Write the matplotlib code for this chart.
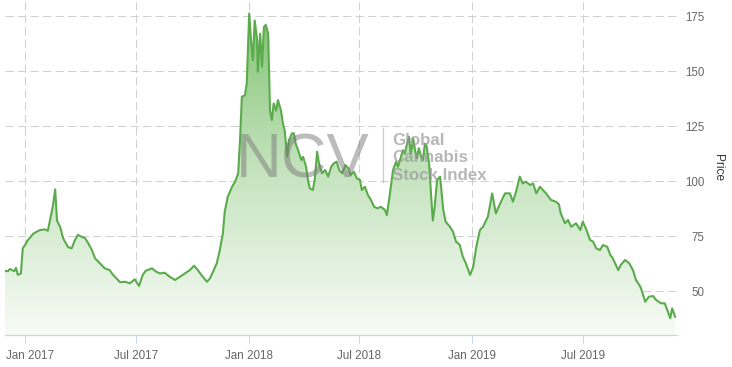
import matplotlib
matplotlib.use("Agg")
import matplotlib.pyplot as plt
import matplotlib.dates as mdates
import numpy as np
from matplotlib.colors import LinearSegmentedColormap
from matplotlib.lines import Line2D
from matplotlib.transforms import ScaledTranslation

# ---------------- data ----------------
dates = [
    "2016-11-29", "2016-12-04", "2016-12-07", "2016-12-14", "2016-12-17", "2016-12-20", "2016-12-25", "2016-12-28",
    "2017-01-01", "2017-01-05", "2017-01-14", "2017-01-20", "2017-01-25", "2017-02-02", "2017-02-07", "2017-02-10",
    "2017-02-15", "2017-02-19", "2017-02-22", "2017-02-27",
    "2017-03-04", "2017-03-07", "2017-03-12", "2017-03-18", "2017-03-23", "2017-03-28", "2017-04-03", "2017-04-09",
    "2017-04-14", "2017-04-20", "2017-04-25",
    "2017-05-03", "2017-05-11", "2017-05-19", "2017-05-24", "2017-05-31", "2017-06-05", "2017-06-13", "2017-06-21",
    "2017-06-29",
    "2017-07-06", "2017-07-12", "2017-07-17", "2017-07-27", "2017-08-03", "2017-08-09", "2017-08-17", "2017-08-25",
    "2017-09-03", "2017-09-11", "2017-09-19", "2017-09-27",
    "2017-10-04", "2017-10-10", "2017-10-18", "2017-10-25", "2017-10-30", "2017-11-04", "2017-11-10", "2017-11-15",
    "2017-11-20", "2017-11-23", "2017-11-28",
    "2017-12-05", "2017-12-10", "2017-12-15", "2017-12-18", "2017-12-21", "2017-12-26", "2017-12-29",
    "2018-01-02", "2018-01-05", "2018-01-08", "2018-01-11", "2018-01-15", "2018-01-16", "2018-01-20", "2018-01-23",
    "2018-01-26", "2018-01-29",
    "2018-02-02", "2018-02-05", "2018-02-08", "2018-02-11", "2018-02-15", "2018-02-18", "2018-02-23", "2018-02-26",
    "2018-03-01", "2018-03-05", "2018-03-08", "2018-03-13", "2018-03-16", "2018-03-19", "2018-03-23", "2018-03-28",
    "2018-03-31",
    "2018-04-05", "2018-04-08", "2018-04-11", "2018-04-16", "2018-04-19", "2018-04-23", "2018-04-26",
    "2018-05-01", "2018-05-06", "2018-05-11", "2018-05-16", "2018-05-20", "2018-05-25", "2018-05-29",
    "2018-06-03", "2018-06-08", "2018-06-13", "2018-06-17", "2018-06-22", "2018-06-27",
    "2018-07-02", "2018-07-05", "2018-07-10", "2018-07-15", "2018-07-20", "2018-07-25", "2018-07-31",
    "2018-08-05", "2018-08-12", "2018-08-15", "2018-08-20", "2018-08-25", "2018-08-30",
    "2018-09-02", "2018-09-07", "2018-09-10", "2018-09-13", "2018-09-17", "2018-09-20", "2018-09-23", "2018-09-27",
    "2018-09-30",
    "2018-10-03", "2018-10-06", "2018-10-10", "2018-10-13", "2018-10-16", "2018-10-19", "2018-10-23", "2018-10-26",
    "2018-10-29",
    "2018-11-01", "2018-11-05", "2018-11-10", "2018-11-15", "2018-11-19", "2018-11-26",
    "2018-12-01", "2018-12-06", "2018-12-12", "2018-12-17", "2018-12-22", "2018-12-29",
    "2019-01-03", "2019-01-08", "2019-01-14", "2019-01-19", "2019-01-27",
    "2019-02-03", "2019-02-09", "2019-02-16", "2019-02-24",
    "2019-03-04", "2019-03-09", "2019-03-14", "2019-03-20", "2019-03-25", "2019-03-30",
    "2019-04-06", "2019-04-11", "2019-04-16", "2019-04-22", "2019-04-27",
    "2019-05-02", "2019-05-10", "2019-05-18", "2019-05-23", "2019-05-26",
    "2019-06-02", "2019-06-07", "2019-06-12", "2019-06-20", "2019-06-27",
    "2019-07-01", "2019-07-06", "2019-07-13", "2019-07-18", "2019-07-23", "2019-07-29",
    "2019-08-03", "2019-08-10", "2019-08-15", "2019-08-19", "2019-08-28",
    "2019-09-01", "2019-09-08", "2019-09-15", "2019-09-21", "2019-09-26",
    "2019-10-03", "2019-10-06", "2019-10-11", "2019-10-17", "2019-10-24", "2019-10-29",
    "2019-11-06", "2019-11-12", "2019-11-17", "2019-11-21", "2019-11-24", "2019-11-29",
]

prices = [
    59.2, 59, 60, 59, 60.5, 57.3, 58, 69.4,
    71, 73, 76, 77, 77.7, 78, 77.4, 81.5, 88.3, 96.2, 82, 79.2,
    74, 72.4, 70, 69.4, 73, 75.5, 74.7, 74, 71.7, 68.6, 64.9,
    62.6, 60.3, 59.5, 57.5, 55.5, 54, 54.2, 53.5, 55.3,
    52.3, 57.3, 59.2, 60.3, 58.8, 58, 58.3, 56.5, 55, 56.5, 58, 59.5,
    61.5, 59.5, 56.5, 54.2, 55.8, 58.8, 62.6, 68.6, 76.2, 86, 92.9,
    97.4, 99.7, 103.5, 118.6, 138.3, 139, 144.4,
    176.2, 164, 155, 173, 164, 149.7, 167, 152, 170, 171,
    167, 132, 127.7, 135.3, 132, 136.8, 132, 126.2,
    123, 111, 118.6, 121.7, 121.7, 117, 114, 109.5, 111,
    106.5, 100.5, 96.7, 95.9, 100.5, 113.3, 108,
    103.5, 105, 102, 106.5, 108, 108.8, 105,
    103.5, 107.3, 105.8, 102.7, 104.2, 101.2,
    100.5, 95.9, 97.4, 93.6, 91.4, 88.3, 87.6,
    88.3, 86.8, 84.5, 94.4, 105, 108.8,
    106.5, 111, 114, 112.5, 117, 120.1, 112.5, 119.4, 114,
    110.3, 114.9, 111, 109.5, 117, 115.6, 108, 94.4, 82,
    88, 100.5, 102, 87, 81.5, 79.2,
    77, 72.4, 71, 65.6, 62.6, 57.3,
    61, 70, 77.7, 79.2, 83.8,
    94.4, 85.3, 89.8, 94.4,
    94.4, 90.6, 95.1, 102, 98.9, 99.7,
    98.2, 98.9, 94.4, 97.4, 95.9,
    94.4, 91.4, 90.6, 89.5, 85.3,
    80.8, 82.3, 79.2, 80.8, 77.7,
    81.5, 78.5, 73.2, 72.4, 69.4, 68.6,
    70.9, 70.1, 66.4, 64.9, 59.5,
    61.8, 64.1, 62.6, 59.5, 55,
    52, 49.7, 45.1, 47.4, 47.7, 45.9,
    44.4, 44.4, 40.6, 37.6, 42.1, 38.3,
]

y_ticks = [50, 75, 100, 125, 150, 175]
x_tick_dates = ["2017-01-01", "2017-07-01", "2018-01-01", "2018-07-01", "2019-01-01", "2019-07-01"]
x_tick_labels = ["Jan 2017", "Jul 2017", "Jan 2018", "Jul 2018", "Jan 2019", "Jul 2019"]
x_range = ["2016-11-29", "2019-12-02"]
y_range = [30, 182.3]
y_title = "Price"
wm_big = "NCV"
wm_lines = ["Global", "Cannabis", "Stock Index"]

# ---------------- figure ----------------
W, H = 732, 367
fig = plt.figure(figsize=(W / 100, H / 100), dpi=100)
fig.patch.set_facecolor("white")
ax = fig.add_axes([5 / W, 1 - 335 / H, 672 / W, 335 / H])
ax.set_facecolor("white")

xn = mdates.date2num(np.array(dates, dtype="datetime64[D]"))
x0, x1 = mdates.date2num(np.array(x_range, dtype="datetime64[D]"))

# gradient area fill
poly = ax.fill_between(xn, prices, y_range[0], facecolor="none", edgecolor="none")
cmap = LinearSegmentedColormap.from_list("g", ["#f7fbf6", "#c4e3bd", "#7dc06f"])
grad = np.linspace(1, 0, 512).reshape(-1, 1)
im = ax.imshow(grad, aspect="auto", cmap=cmap, vmin=0, vmax=1,
               extent=[x0, x1, y_range[0], y_range[1]], origin="upper", zorder=1,
               interpolation="bilinear")
im.set_clip_path(poly.get_paths()[0], transform=ax.transData)

ax.plot(xn, prices, color="#5aab4b", lw=1.5, zorder=3, solid_joinstyle="round")

ax.set_xlim(x0, x1)
ax.set_ylim(*y_range)

# grid
ax.set_axisbelow(True)
ax.grid(True, color="#d0d0d0", linestyle=(0, (8, 4)), linewidth=0.75, zorder=0)

# spines
for s in ["top", "left", "right"]:
    ax.spines[s].set_visible(False)
ax.spines["bottom"].set_color("#ccd6eb")
ax.spines["bottom"].set_linewidth(0.9)

# x axis
ax.set_xticks(mdates.date2num(np.array(x_tick_dates, dtype="datetime64[D]")))
ax.set_xticklabels(x_tick_labels)
ax.tick_params(axis="x", direction="out", length=5.5, width=0.75, color="#ccd6eb",
               labelcolor="#666666", labelsize=8.4, pad=5.5)
for lbl in ax.get_xticklabels():
    lbl.set_fontfamily("Liberation Sans")
first = ax.get_xticklabels()[0]
first.set_transform(first.get_transform() + ScaledTranslation(4.7 / 100, 0, fig.dpi_scale_trans))

# y axis (right)
ax.yaxis.tick_right()
ax.set_yticks(y_ticks)
ax.tick_params(axis="y", length=0, labelcolor="#666666", labelsize=8.3, pad=19.5)
for lbl in ax.get_yticklabels():
    lbl.set_horizontalalignment("right")
    lbl.set_fontfamily("Liberation Sans")

ax.yaxis.set_label_position("right")
ax.set_ylabel(y_title, rotation=270, fontsize=8.6, color="#333333", family="Liberation Sans",
              va="center", ha="center")
ax.yaxis.set_label_coords((718 - 5) / 672, 0.5)

# watermark
fig.text(236 / W, 1 - 177 / H, wm_big, fontsize=45.5, family="Liberation Sans",
         color="#7a7a7a", alpha=0.5, ha="left", va="baseline", zorder=10)
fig.add_artist(Line2D([383 / W, 383 / W], [1 - 128 / H, 1 - 182 / H],
                      color="#aaaaaa", alpha=0.6, lw=0.9, zorder=10))
for i, t in enumerate(wm_lines):
    fig.text(392 / W, 1 - (145 + 17.5 * i) / H, t, fontsize=12.2, family="Liberation Sans",
             weight="bold", color="#999999", alpha=0.7, ha="left", va="baseline", zorder=10)

fig.savefig("out.png", dpi=100, facecolor="white")
